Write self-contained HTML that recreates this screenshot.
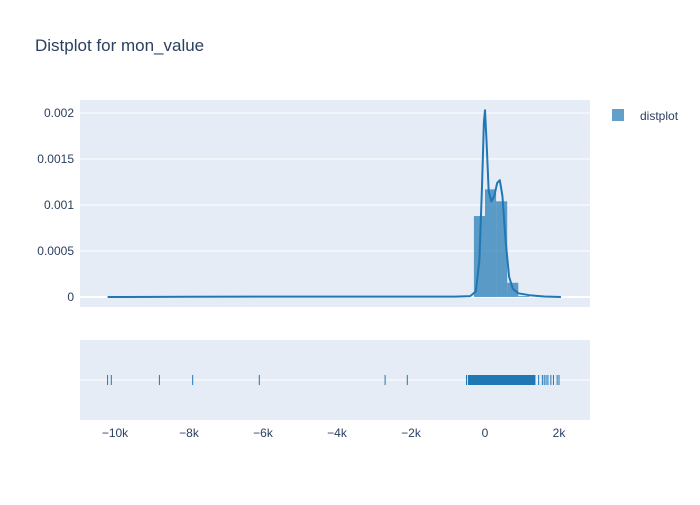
<!DOCTYPE html>
<html><head><meta charset="utf-8"><style>
body{margin:0;background:#fff;font-family:"Liberation Sans",sans-serif}
svg text{font-family:"Liberation Sans",sans-serif;fill:#2a3f5f}
</style></head><body>
<svg id="c" width="700" height="500">
<rect width="700" height="500" fill="#fff"/>
<text x="35" y="51" font-size="17">Distplot for mon_value</text>
<rect x="80" y="100" width="510" height="207" fill="#e5ecf6"/>
<rect x="80" y="340" width="510" height="80" fill="#e5ecf6"/>
<line x1="80" x2="590" y1="380" y2="380" stroke="#fff" stroke-width="1"/>
<g id="grid"></g><g id="bars"></g><g id="kde"></g><g id="rug"></g><g id="ticks"></g>
<g>
<rect x="612" y="109" width="12" height="12" fill="#1f77b4" opacity="0.7"/>
<text x="640" y="120" font-size="12">distplot</text>
</g>
</svg>
<script>
const yTicks=[0,0.0005,0.001,0.0015,0.002];
const yTickLabels=["0","0.0005","0.001","0.0015","0.002"];
const xTicks=[-10000,-8000,-6000,-4000,-2000,0,2000];
const xTickLabels=["−10k","−8k","−6k","−4k","−2k","0","2k"];
const binStarts=[-300,0,300,600,900];
const binDensity=[0.00088,0.00117,0.00104,0.000155,0.00001];
const binWidth=300;
const kdeX=[-10200,-8000,-5000,-2000,-800,-400,-250,-150,-80,-30,0,40,100,170,250,330,400,470,560,650,750,900,1200,1600,2050];
const kdeY=[0,0.000002,0.000004,0.000004,0.000004,0.00001,0.00006,0.0004,0.0012,0.0019,0.00203,0.0017,0.00115,0.00104,0.0011,0.00124,0.00127,0.0011,0.0006,0.00022,0.00009,0.00004,0.00002,0.000005,0];
const rugVals=[-10200,-10100,-8800,-7900,-6100,-2700,-2100,-500,-450,-400,-300,-200,-100,0,100,200,300,400,500,600,700,800,900,1000,1100,1200,1250,1300,1350,1450,1550,1600,1650,1700,1780,1850,1950,2000];
const X=v=>485+v*0.037, Y=v=>297-v*92000;
const NS="http://www.w3.org/2000/svg";
function mk(tag,attrs,parent){const e=document.createElementNS(NS,tag);for(const k in attrs)e.setAttribute(k,attrs[k]);document.getElementById(parent).appendChild(e);return e;}
yTicks.forEach((t,i)=>{
 const l=mk('line',{x1:80,x2:590,y1:Y(t),y2:Y(t),stroke:'#fff','stroke-width':t===0?2:1},'grid');
 
 
 const tx=mk('text',{x:74,y:Y(t)+4,'font-size':12,'text-anchor':'end'},'ticks');tx.textContent=yTickLabels[i];
 
 
});
xTicks.forEach((t,i)=>{
 const tx=mk('text',{x:X(t),y:437,'font-size':12,'text-anchor':'middle'},'ticks');tx.textContent=xTickLabels[i];
 
 
});
binStarts.forEach((b,i)=>{
 const r=mk('rect',{x:X(b),y:Y(binDensity[i]),width:X(b+binWidth)-X(b),height:Y(0)-Y(binDensity[i]),fill:'#1f77b4',opacity:0.7},'bars');
 
 
});
const p=mk('path',{d:kdeX.map((x,i)=>(i?'L':'M')+X(x).toFixed(1)+','+Y(kdeY[i]).toFixed(1)).join(''),fill:'none',stroke:'#1f77b4','stroke-width':2,'stroke-linejoin':'round'},'kde');


rugVals.forEach(v=>{
 const l=mk('line',{x1:X(v),x2:X(v),y1:375,y2:385,stroke:'#1f77b4','stroke-width':1},'rug');
 
 
});
const band=mk('rect',{x:X(-450),y:375,width:X(1350)-X(-450),height:10,fill:'#1f77b4'},'rug');


</script>
</body></html>
